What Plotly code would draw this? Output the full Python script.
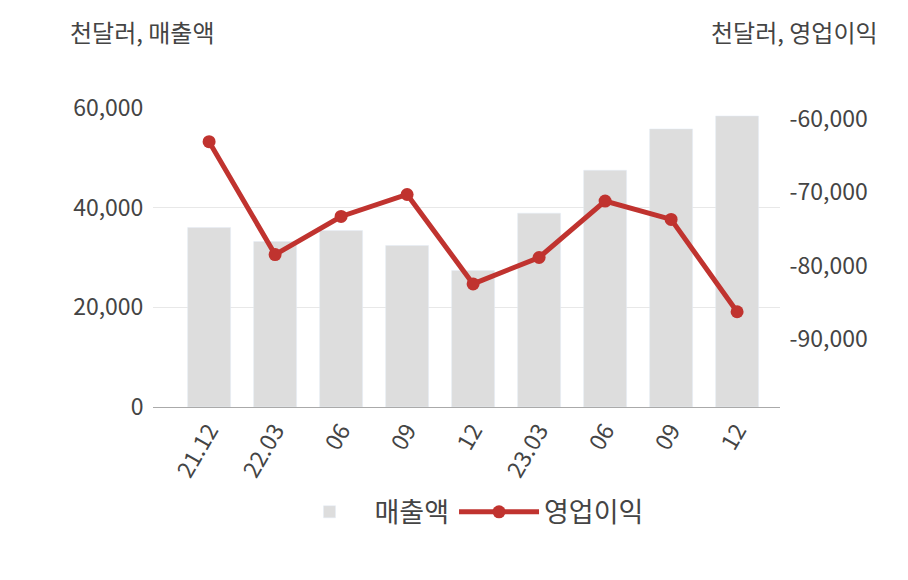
import plotly.graph_objects as go

quarters = ["21.12", "22.03", "06", "09", "12", "23.03", "06", "09", "12"]
sales = [36000, 33200, 35400, 32400, 27400, 38900, 47500, 55800, 58400]
op_income = [-63100, -78500, -73300, -70300, -82500, -78900, -71200, -73700, -86300]
left_ticks = [0, 20000, 40000, 60000]
right_ticks = [-90000, -80000, -70000, -60000]

FONT = "Noto Sans CJK KR"
x = list(range(len(quarters)))

fig = go.Figure()
fig.add_trace(go.Bar(
    x=x, y=sales, name="매출액", marker_color="#dddddd", width=0.65,
))
fig.add_trace(go.Scatter(
    x=x, y=op_income, name="영업이익", yaxis="y2", mode="lines+markers",
    line=dict(color="#c0332f", width=5), marker=dict(size=13, color="#c0332f"),
))

fig.update_layout(
    width=908, height=580,
    paper_bgcolor="white", plot_bgcolor="white",
    font=dict(family=FONT, size=23, color="#444"),
    margin=dict(l=145, r=136, t=100, b=181),
    showlegend=True,
    legend=dict(orientation="h", x=0.5, xanchor="center", y=-0.27, yanchor="top",
                font=dict(size=27), itemwidth=80, tracegroupgap=40),
    xaxis=dict(tickmode="array", tickvals=x, ticktext=quarters, tickangle=-60,
               showline=True, linecolor="#aaa", range=[-0.85, 8.65]),
    yaxis=dict(range=[0, 60000], tickvals=left_ticks,
               ticktext=[f"{v:,}" for v in left_ticks],
               gridcolor="#e8e8e8", zeroline=False, ticks="outside", ticklen=4, tickcolor="#fff"),
    yaxis2=dict(overlaying="y", side="right", range=[-99300, -58500],
                tickvals=right_ticks, ticktext=[f"-{abs(v):,}" for v in right_ticks],
                showgrid=False, zeroline=False, ticks="outside", ticklen=4, tickcolor="#fff"),
    annotations=[
        dict(text="천달러, 매출액", xref="paper", yref="paper", x=-0.135, y=1.19,
             xanchor="left", yanchor="bottom", showarrow=False, font=dict(size=24)),
        dict(text="천달러, 영업이익", xref="paper", yref="paper", x=1.16, y=1.19,
             xanchor="right", yanchor="bottom", showarrow=False, font=dict(size=24)),
    ],
)

fig.write_html("out.html")
